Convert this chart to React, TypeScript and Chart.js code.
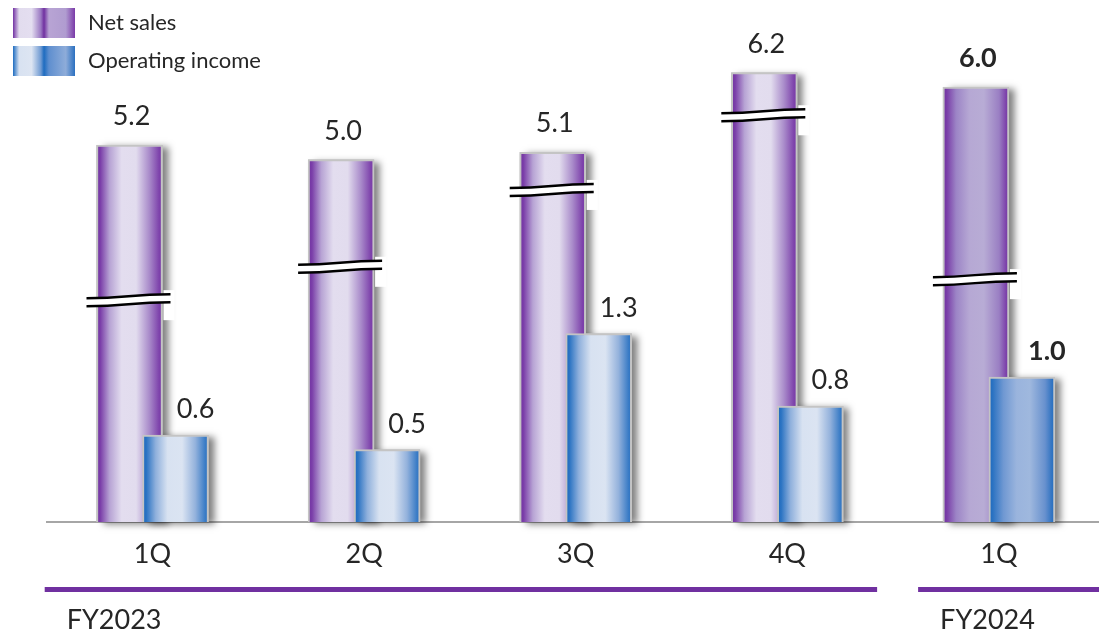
import { useEffect, useRef } from "react";
import { Chart, registerables } from "chart.js";

Chart.register(...registerables);

// ---------- data ----------
const categories = ["1Q", "2Q", "3Q", "4Q", "1Q"];
const fiscalYears = ["FY2023", "FY2024"];
const fiscalYearOfCategory = [0, 0, 0, 0, 1];
const netSales = [5.2, 5.0, 5.1, 6.2, 6.0];
const operatingIncome = [0.6, 0.5, 1.3, 0.8, 1.0];
const netSalesBreakAt = [3.06, 3.52, 4.58, 5.61, 3.35];
const highlighted = [false, false, false, false, true];
const seriesNames = ["Net sales", "Operating income"];

// ---------- layout / style constants ----------
const FONT = "Lato, 'Open Sans', sans-serif";
const TEXT = "#262626";
const PURPLE = "#7030a0";
const X_MIN = -0.5;
const X_MAX = 4.473;
const BAR_SHIFT = 0.1087;
const OP_MAX = 3.5;

type Stops = [number, string][];
const netStops = (hi: boolean): Stops =>
  hi
    ? [[0, "#7030a0"], [0.06, "#7a3ea8"], [0.2, "#9c84c6"], [0.4, "#b6a8d4"], [0.62, "#b8acd5"], [0.85, "#9a7fc3"], [0.96, "#7c40aa"], [1, "#7838a7"]]
    : [[0, "#7030a0"], [0.06, "#7b3fa9"], [0.2, "#b7a3d4"], [0.38, "#e3ddef"], [0.6, "#e2dcee"], [0.8, "#a98bca"], [0.95, "#7d42ab"], [1, "#7a3aa8"]];
const opStops = (hi: boolean): Stops =>
  hi
    ? [[0, "#1a68bd"], [0.06, "#2c73c2"], [0.22, "#6f98d2"], [0.42, "#9ab4dd"], [0.62, "#9fb8de"], [0.85, "#6891ce"], [0.96, "#2e72c1"], [1, "#2a70c0"]]
    : [[0, "#1a68bd"], [0.06, "#2c74c3"], [0.2, "#8fb0dc"], [0.38, "#d8e2f1"], [0.6, "#dbe4f2"], [0.8, "#94b2dc"], [0.95, "#3a7cc6"], [1, "#2b70c0"]];
const stopsByDataset = [netStops, opStops];

function makeGradient(ctx: CanvasRenderingContext2D, x0: number, x1: number, stops: Stops) {
  const g = ctx.createLinearGradient(x0, 0, x1, 0);
  stops.forEach(([o, c]) => g.addColorStop(o, c));
  return g;
}

const shadowPlugin = {
  id: "barShadows",
  beforeDatasetsDraw(chart: any) {
    const ctx = chart.ctx as CanvasRenderingContext2D;
    ctx.save();
    ctx.shadowColor = "rgba(0,0,0,0.5)";
    ctx.shadowBlur = 7;
    ctx.shadowOffsetX = 6;
    ctx.shadowOffsetY = 2;
    ctx.fillStyle = "#bdbdbd";
    chart.data.datasets.forEach((_ds: any, di: number) => {
      const meta = chart.getDatasetMeta(di);
      meta.data.forEach((bar: any, i: number) => {
        const { x, y, base, width } = bar.getProps(["x", "y", "base", "width"], true);
        if (![x, y, base, width].every(Number.isFinite)) return;
        ctx.fillRect(x - width / 2, y, width, base - y);
        bar.options = Object.assign(Object.create(Object.getPrototypeOf(bar.options)), bar.options, {
          backgroundColor: makeGradient(ctx, x - width / 2, x + width / 2, stopsByDataset[di](highlighted[i])),
        });
      });
    });
    ctx.restore();
  },
};

const breakPlugin = {
  id: "breaks",
  afterDatasetsDraw(chart: any) {
    const ctx = chart.ctx as CanvasRenderingContext2D;
    const meta = chart.getDatasetMeta(0);
    const yScale = chart.scales.y2;
    meta.data.forEach((bar: any, i: number) => {
      const { x, width } = bar.getProps(["x", "width"], true);
      const left = x - width / 2;
      const right = x + width / 2;
      const y = yScale.getPixelForValue(netSalesBreakAt[i]);
      const x0 = left - 10;
      const x1 = right + 8;
      const mid = (x0 + x1) / 2;
      ctx.save();
      ctx.fillStyle = "#ffffff";
      ctx.fillRect(right + 1, y - 10, 11, 30);
      ctx.beginPath();
      ctx.moveTo(x0, y - 2);
      ctx.bezierCurveTo(mid, y - 2, mid, y - 6, x1, y - 6);
      ctx.lineTo(x1, y + 2);
      ctx.bezierCurveTo(mid, y + 2, mid, y + 6, x0, y + 6);
      ctx.closePath();
      ctx.fill();
      ctx.strokeStyle = "#000000";
      ctx.lineWidth = 2.5;
      ctx.beginPath();
      ctx.moveTo(x0, y - 2);
      ctx.bezierCurveTo(mid, y - 2, mid, y - 6, x1, y - 6);
      ctx.moveTo(x0, y + 6);
      ctx.bezierCurveTo(mid, y + 6, mid, y + 2, x1, y + 2);
      ctx.stroke();
      ctx.restore();
    });
  },
};

const valueLabelPlugin = {
  id: "valueLabels",
  afterDatasetsDraw(chart: any) {
    const ctx = chart.ctx as CanvasRenderingContext2D;
    ctx.save();
    ctx.fillStyle = TEXT;
    ctx.textAlign = "center";
    ctx.textBaseline = "alphabetic";
    chart.data.datasets.forEach((ds: any, di: number) => {
      const meta = chart.getDatasetMeta(di);
      meta.data.forEach((bar: any, i: number) => {
        const { x, y } = bar.getProps(["x", "y"], true);
        const v = ds.data[i].y as number;
        ctx.font = `${highlighted[i] ? "bold " : ""}27px ${FONT}`;
        const dx = di === 0 ? 2 : highlighted[i] ? 25 : 20;
        const gap = di === 0 ? 20 : 17;
        ctx.fillText(v.toFixed(1), x + dx, y - gap);
      });
    });
    ctx.restore();
  },
};

const fiscalYearPlugin = {
  id: "fiscalYears",
  afterDraw(chart: any) {
    const ctx = chart.ctx as CanvasRenderingContext2D;
    const xs = chart.scales.x;
    ctx.save();
    fiscalYears.forEach((fy, g) => {
      const idx = fiscalYearOfCategory.map((f, i) => (f === g ? i : -1)).filter((i) => i >= 0);
      const first = idx[0];
      const last = idx[idx.length - 1];
      const start = xs.getPixelForValue(first - 0.5) + (first > 0 ? 25 : -2);
      const end = g === fiscalYears.length - 1 ? chart.width : xs.getPixelForValue(last + 0.5) - 16;
      ctx.fillStyle = PURPLE;
      ctx.fillRect(start, 587, end - start, 5);
      ctx.fillStyle = TEXT;
      ctx.font = `27px ${FONT}`;
      ctx.textAlign = "left";
      ctx.textBaseline = "alphabetic";
      ctx.fillText(fy, start + 22, 629);
    });
    ctx.restore();
  },
};

const legendPlugin = {
  id: "customLegend",
  afterDraw(chart: any) {
    const ctx = chart.ctx as CanvasRenderingContext2D;
    ctx.save();
    const swatches: [number, string, Stops][] = [
      [8, seriesNames[0], [[0, "#7232a3"], [0.1, "#e2dcee"], [0.3, "#e4def0"], [0.45, "#9a78c2"], [0.5, "#7030a0"], [0.58, "#b8a4d4"], [0.85, "#b09cd0"], [1, "#7a3aa8"]]],
      [46, seriesNames[1], [[0, "#1e6cc0"], [0.1, "#d8e2f1"], [0.3, "#dde5f2"], [0.45, "#6f9ad2"], [0.5, "#1e6cc0"], [0.58, "#5f8fcf"], [0.85, "#8eacd9"], [1, "#2b70c0"]]],
    ];
    swatches.forEach(([top, label, stops]) => {
      ctx.fillStyle = makeGradient(ctx, 13, 75, stops);
      ctx.fillRect(13, top, 62, 30);
      ctx.fillStyle = TEXT;
      ctx.font = `22px ${FONT}`;
      ctx.textAlign = "left";
      ctx.textBaseline = "middle";
      ctx.fillText(label, 88, top + 15);
    });
    ctx.restore();
  },
};

const hiddenX = (shift: number) => ({
  type: "linear",
  display: false,
  bounds: "data",
  offset: false,
  min: X_MIN + shift,
  max: X_MAX + shift,
  grid: { offset: false },
});

const barStyle = {
  grouped: false,
  barThickness: 66,
  maxBarThickness: 66,
  borderColor: "#c4c4c4",
  borderWidth: 2,
  borderSkipped: "bottom",
};

export default function App() {
  const ref = useRef<HTMLCanvasElement>(null);
  useEffect(() => {
    document.body.style.margin = "0";
    const chart = new Chart(ref.current!, {
      type: "bar",
      data: {
        datasets: [
          {
            label: seriesNames[0],
            data: netSales.map((v, i) => ({ x: i, y: v })),
            xAxisID: "xNet",
            yAxisID: "y2",
            order: 1,
            backgroundColor: "#a88cc8",
            ...barStyle,
          },
          {
            label: seriesNames[1],
            data: operatingIncome.map((v, i) => ({ x: i, y: v })),
            xAxisID: "xOp",
            yAxisID: "y",
            order: 0,
            backgroundColor: "#8eacd9",
            ...barStyle,
          },
        ],
      } as any,
      options: {
        animation: false,
        responsive: true,
        maintainAspectRatio: false,
        layout: { padding: { left: 46.7, top: 522 - OP_MAX * 145, right: 0, bottom: 0 } },
        plugins: { legend: { display: false }, tooltip: { enabled: false } },
        scales: {
          x: {
            type: "linear",
            bounds: "data",
            offset: false,
            min: X_MIN,
            max: X_MAX,
            afterBuildTicks: (s: any) => {
              s.ticks = categories.map((_, i) => ({ value: i }));
            },
            afterFit: (s: any) => {
              s.height = 112;
              s.paddingLeft = 0;
              s.paddingRight = 0;
            },
            ticks: {
              callback: (v: any) => categories[v as number] ?? "",
              font: { family: FONT, size: 27 },
              color: TEXT,
              padding: 16,
              autoSkip: false,
              maxRotation: 0,
              minRotation: 0,
            },
            grid: { display: false, drawTicks: false, offset: false },
            border: { display: true, color: "#a6a6a6", width: 2 },
          },
          xNet: hiddenX(BAR_SHIFT),
          xOp: hiddenX(-BAR_SHIFT),
          y: { display: false, min: 0, max: OP_MAX },
          y2: { display: false, min: 0, max: OP_MAX * 2 },
        },
      } as any,
      plugins: [shadowPlugin, breakPlugin, valueLabelPlugin, fiscalYearPlugin, legendPlugin],
    });
    return () => chart.destroy();
  }, []);
  return (
    <div style={{ position: "fixed", left: 0, top: 0, width: 1099, height: 634 }}>
      <canvas ref={ref} />
    </div>
  );
}
